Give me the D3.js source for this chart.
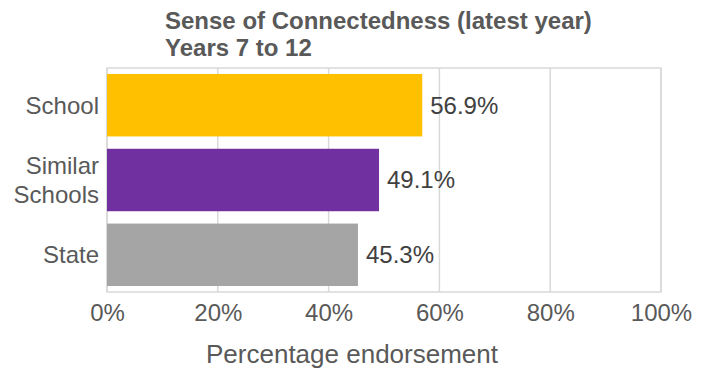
<!DOCTYPE html>
<html>
<head>
<meta charset="utf-8">
<script src="https://cdn.jsdelivr.net/npm/d3@7"></script>
<style>
  body { margin: 0; background: #fff; }
  text { font-family: "Liberation Sans", Arial, sans-serif; fill: #595959; }
</style>
</head>
<body>
<div id="chart"></div>
<script>
// chart data
var categories = ["School", "Similar Schools", "State"];
var values = [56.9, 49.1, 45.3];
var barColors = ["#FFC000", "#7030A0", "#A5A5A5"];
var xTicks = [0, 20, 40, 60, 80, 100];
var titleLines = ["Sense of Connectedness (latest year)", "Years 7 to 12"];
var xTitle = "Percentage endorsement";

var W = 710, H = 370,
    margin = {top: 68, right: 49, bottom: 78, left: 107},
    width = W - margin.left - margin.right,
    height = H - margin.top - margin.bottom;

var svg = d3.select("#chart").append("svg")
    .attr("width", W)
    .attr("height", H);

var g = svg.append("g")
    .attr("transform", "translate(" + margin.left + "," + margin.top + ")");

var xScale = d3.scaleLinear().domain([0, 100]).range([0, width]);
var yScale = d3.scaleBand().domain(categories).range([0, height])
    .paddingInner(0.165).paddingOuter(0.08);

// gridlines
g.selectAll(".grid")
    .data(xTicks)
    .enter().append("line")
    .attr("class", "grid")
    .attr("x1", d => xScale(d)).attr("x2", d => xScale(d))
    .attr("y1", 0).attr("y2", height)
    .attr("stroke", "#D9D9D9").attr("stroke-width", 1.5);

// plot border
g.append("rect")
    .attr("width", width).attr("height", height)
    .attr("fill", "none").attr("stroke", "#D9D9D9").attr("stroke-width", 1.5);

// bars
g.selectAll(".bar")
    .data(values)
    .enter().append("rect")
    .attr("class", "bar")
    .attr("x", xScale(0))
    .attr("y", (d, i) => yScale(categories[i]))
    .attr("width", d => xScale(d) - xScale(0))
    .attr("height", yScale.bandwidth())
    .attr("fill", (d, i) => barColors[i]);

// value labels
g.selectAll(".val")
    .data(values)
    .enter().append("text")
    .attr("class", "val")
    .attr("x", d => xScale(d) + 8)
    .attr("y", (d, i) => yScale(categories[i]) + yScale.bandwidth() / 2)
    .attr("dy", "0.35em")
    .style("font-size", "24px")
    .style("fill", "#404040")
    .text(d => d.toFixed(1) + "%");

// x axis
var xAxis = d3.axisBottom(xScale).tickValues(xTicks).tickSize(0).tickPadding(12)
    .tickFormat(d => d + "%");
var xg = g.append("g")
    .attr("transform", "translate(0," + height + ")")
    .call(xAxis);
xg.select(".domain").remove();
xg.selectAll("text").style("font-size", "24px").attr("fill", null);

// y axis
var yAxis = d3.axisLeft(yScale).tickSize(0).tickPadding(8).tickFormat("");
var yg = g.append("g").call(yAxis);
yg.select(".domain").remove();
yg.selectAll(".tick").each(function(d) {
    var words = d.split(" ");
    var t = d3.select(this).append("text")
        .attr("x", -8)
        .attr("text-anchor", "end")
        .style("font-size", "24px");
    words.forEach(function(w, i) {
        t.append("tspan")
            .attr("x", -8)
            .attr("dy", i === 0 ? (0.35 - (words.length - 1) * 0.6) + "em" : "1.2em")
            .text(w);
    });
});

// axis title
svg.append("text")
    .attr("x", 352)
    .attr("y", 363)
    .attr("text-anchor", "middle")
    .style("font-size", "26px")
    .text(xTitle);

// chart title
svg.selectAll(".title")
    .data(titleLines)
    .enter().append("text")
    .attr("class", "title")
    .attr("x", 165)
    .attr("y", (d, i) => 29 + i * 27)
    .style("font-size", "24px")
    .style("font-weight", "bold")
    .text(d => d);
</script>
</body>
</html>
